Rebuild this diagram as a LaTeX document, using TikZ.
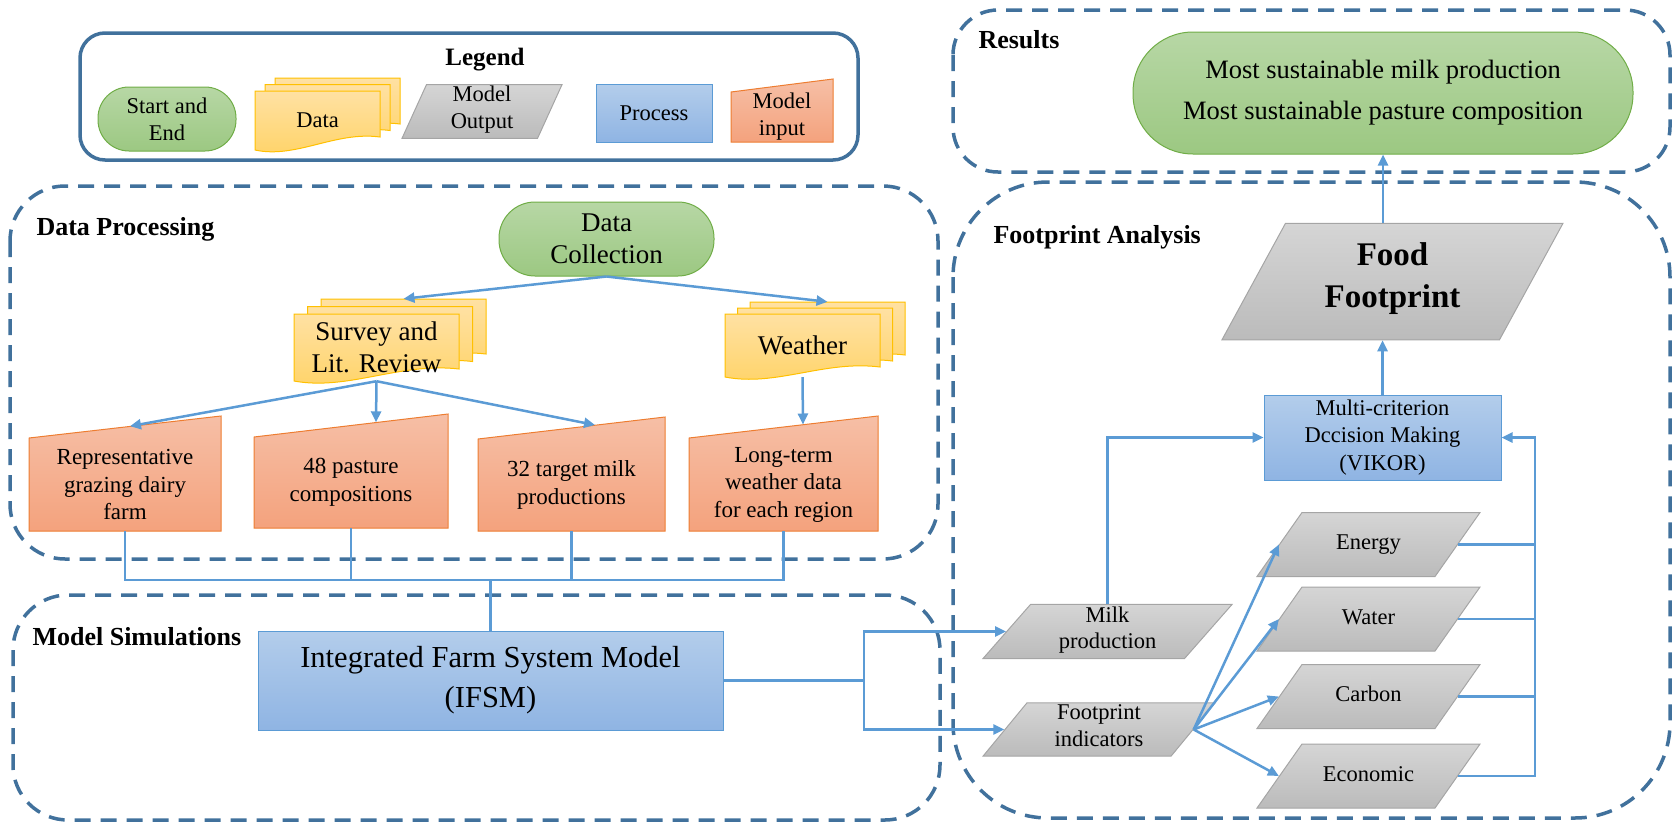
\documentclass[tikz,border=0pt]{standalone}
\usepackage{fontspec}
\setmainfont{Liberation Serif}
\usetikzlibrary{arrows.meta,shapes.geometric,calc}

\definecolor{groupblue}{HTML}{41719C}
\definecolor{flowblue}{HTML}{5B9BD5}
\definecolor{greenline}{HTML}{70AD47}
\definecolor{greentop}{HTML}{B7D7A5}
\definecolor{greenbot}{HTML}{9CC882}
\definecolor{docline}{HTML}{FFC000}
\definecolor{doctop}{HTML}{FFE1A3}
\definecolor{docbot}{HTML}{FFD366}
\definecolor{grayline}{HTML}{A5A5A5}
\definecolor{graytop}{HTML}{D5D5D5}
\definecolor{graybot}{HTML}{BBBBBB}
\definecolor{proctop}{HTML}{B3CDEB}
\definecolor{procbot}{HTML}{8FB4E3}
\definecolor{inline}{HTML}{ED7D31}
\definecolor{intop}{HTML}{F6BFA6}
\definecolor{inbot}{HTML}{F4A27D}

\tikzset{
  groupbox/.style={draw=groupblue, line width=3.5pt, dash pattern=on 16pt off 10pt, rounded corners=#1},
  grouplabel/.style={anchor=base west, font=\bfseries\fontsize{26}{30}\selectfont},
  startend/.style={rectangle, rounded corners=#1, draw=greenline, line width=1pt, top color=greentop, bottom color=greenbot, align=center, inner sep=0pt},
  procbox/.style={rectangle, draw=flowblue, line width=1pt, top color=proctop, bottom color=procbot, align=center, inner sep=0pt},
  outbox/.style 2 args={trapezium, trapezium stretches body, trapezium left angle=#1, trapezium right angle=#2, draw=grayline, line width=1pt, top color=graytop, bottom color=graybot, align=center, inner xsep=0pt, execute at begin node=\strut, execute at end node=\strut},
  inshape/.style={draw=inline, line width=1pt, top color=intop, bottom color=inbot},
  docshape/.style={draw=docline, line width=1pt, top color=doctop, bottom color=docbot},
  plaintext/.style={align=center, inner sep=0pt},
  legtext/.style={font=\fontsize{22.5}{27}\selectfont},
  doctext/.style={font=\fontsize{27}{32}\selectfont},
  intext/.style={font=\fontsize{23}{27.5}\selectfont},
  smalltext/.style={font=\fontsize{22.5}{26.5}\selectfont},
  flow/.style={draw=flowblue, line width=2.5pt, -{Triangle[length=11pt,width=10pt]}},
  wire/.style={draw=flowblue, line width=2.5pt}
}

\begin{document}
\begin{tikzpicture}[x=1pt, y=-1pt]
  \useasboundingbox (0,0) rectangle (1673,822);

  % legend
  \draw[draw=groupblue, line width=3.5pt, rounded corners=25pt] (80,33) rectangle (858,160);
  \node[anchor=base, font=\bfseries\fontsize{25}{30}\selectfont] (legtitle) at (485,65) {Legend};
  \node[startend=31pt, legtext, minimum width=138pt, minimum height=64pt] (legstart) at (167,119) {Start and\\End};
  \foreach \k in {2,1,0}
    \path[docshape, shift={(10*\k,-6.5*\k)}] (255,91) -- (380,91) -- (380,137) .. controls (335,131) and (296,159) .. (255,150) -- cycle;
  \node[plaintext, legtext, minimum width=125pt, minimum height=59pt] (legdata) at (317.5,120.5) {Data};
  \node[outbox={65.5}{114.5}, legtext, inner ysep=1.5pt, minimum width=160pt] (legout) at (482,111.5) {Model\\Output};
  \node[procbox, legtext, minimum width=116pt, minimum height=58pt] (legproc) at (654,113) {Process};
  \path[inshape] (731,92) -- (833,79) -- (833,142) -- (731,142) -- cycle;
  \node[plaintext, legtext, minimum width=102pt, minimum height=50pt] (legin) at (782,117) {Model\\input};

  % data processing
  \draw[groupbox=55pt] (10,186) rectangle (938,559);
  \node[grouplabel] (dplabel) at (33,235) {Data Processing};
  \node[startend=36pt, doctext, minimum width=215pt, minimum height=74pt] (collect) at (606.5,239) {Data\\Collection};

  \foreach \k in {2,1,0}
    \path[docshape, shift={(13.5*\k,-7.5*\k)}] (294,314) -- (459,314) -- (459,369) .. controls (400,362) and (348,391) .. (294,381) -- cycle;
  \node[plaintext, doctext, minimum width=165pt, minimum height=67pt] (survey) at (376.5,347.5) {Survey and\\Lit. Review};

  \foreach \k in {2,1,0}
    \path[docshape, shift={(12.5*\k,-6*\k)}] (725,314) -- (880,314) -- (880,367) .. controls (824,360) and (776,387) .. (725,377) -- cycle;
  \node[plaintext, doctext, minimum width=155pt, minimum height=63pt] (weather) at (802.5,345.5) {Weather};

  \path[inshape] (29,438) -- (221,416) -- (221,531) -- (29,531) -- cycle;
  \node[plaintext, intext, minimum width=192pt, minimum height=93pt] (rep) at (125,484.5) {Representative\\grazing dairy\\farm};
  \path[inshape] (254,437) -- (448,414) -- (448,528) -- (254,528) -- cycle;
  \node[plaintext, intext, minimum width=194pt, minimum height=91pt] (pasture) at (351,482.5) {48 pasture\\compositions};
  \path[inshape] (478,439) -- (665,417) -- (665,531) -- (478,531) -- cycle;
  \node[plaintext, intext, minimum width=187pt, minimum height=92pt] (target) at (571.5,485) {32 target milk\\productions};
  \path[inshape] (689,438) -- (878,416) -- (878,531) -- (689,531) -- cycle;
  \node[plaintext, intext, minimum width=189pt, minimum height=93pt] (longterm) at (783.5,484.5) {Long-term\\weather data\\for each region};

  % model simulations
  \draw[groupbox=55pt] (13,595) rectangle (940,820);
  \node[grouplabel] (mslabel) at (29,645) {Model Simulations};
  \node[procbox, font=\fontsize{30.5}{40}\selectfont, minimum width=465pt, minimum height=99pt] (ifsm) at (490.5,680.5) {Integrated Farm System Model\\(IFSM)};

  % results
  \draw[groupbox=45pt] (953,10) rectangle (1670,172);
  \node[grouplabel] (reslabel) at (975,48) {Results};
  \node[startend=60pt, font=\fontsize{26.5}{41}\selectfont, minimum width=500pt, minimum height=122pt] (result) at (1383,93) {Most sustainable milk production\\Most sustainable pasture composition};

  % footprint analysis
  \draw[groupbox=95pt] (953,182) rectangle (1670,818);
  \node[grouplabel] (falabel) at (990,243) {Footprint Analysis};
  \node[outbox={61.4}{118.6}, font=\bfseries\fontsize{33}{42}\selectfont, inner ysep=19.5pt, minimum width=341pt] (food) at (1392.5,281.5) {Food\\Footprint};
  \node[procbox, font=\fontsize{22.5}{27.5}\selectfont, minimum width=237pt, minimum height=85pt] (mcdm) at (1382.5,437.5) {Multi-criterion\\Dccision Making\\(VIKOR)};
  \node[outbox={48.7}{131.3}, smalltext, inner ysep=2pt, minimum width=249pt] (milk) at (1107.5,631.5) {Milk\\production};
  \node[outbox={50.5}{129.5}, smalltext, inner ysep=2pt, minimum width=232pt] (indic) at (1099,729.5) {Footprint\\indicators};
  \foreach \nm/\yy/\txt in {energy/544.5/Energy, water/619/Water, carbon/696.5/Carbon, economic/776/Economic}
    \node[outbox={54.9}{125.1}, smalltext, inner ysep=18.75pt, minimum width=223pt] (\nm) at (1368.5,\yy) {\txt};

  % connectors
  \draw[flow] (collect.south) -- ($(survey.north)+(27,-15)$);
  \draw[flow] (collect.south) -- ($(weather.north)+(25,-12)$);
  \draw[flow] (survey.south) -- ($(rep.north)+(5,-11.6)$);
  \draw[flow] (survey.south) -- ($(pasture.north)+(25,-14.5)$);
  \draw[flow] (survey.south) -- ($(target.north)+(23.5,-13.8)$);
  \draw[flow] (weather.south) -- ($(longterm.north)+(19.5,-13.3)$);

  \coordinate (bus) at (490.5,580);
  \draw[wire] (rep.south) -- (rep.south |- bus) -- (longterm.south |- bus) -- (longterm.south);
  \draw[wire] (pasture.south) -- (pasture.south |- bus);
  \draw[wire] (target.south) -- (target.south |- bus);
  \draw[wire] (bus) -- (ifsm.north);

  \coordinate (split) at (864,680.5);
  \draw[wire] (ifsm.east) -- (split);
  \draw[flow] (split) |- (milk.west);
  \draw[flow] (split) |- (indic.west);

  \foreach \nm in {energy,water,carbon,economic}
    \draw[flow] (indic.east) -- (\nm.west);

  \coordinate (rbus) at (1535,437.5);
  \foreach \nm in {energy,water,carbon}
    \draw[wire] (\nm.east) -- (\nm.east -| rbus);
  \draw[flow] (economic.east) -| (rbus) -- (mcdm.east);
  \draw[flow] (milk.center |- milk.north) |- (mcdm.west);
  \draw[flow] (mcdm.north) -- (mcdm.north |- food.south);
  \draw[flow] (result.south |- food.north) -- (result.south);
\end{tikzpicture}
\end{document}
